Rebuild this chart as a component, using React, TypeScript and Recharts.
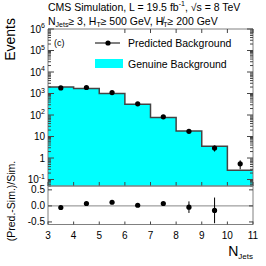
import React from 'react';
import {
  ComposedChart,
  Area,
  Scatter,
  ErrorBar,
  XAxis,
  YAxis,
  ReferenceLine,
  Legend
} from 'recharts';

// bin edges of the N_jets histogram and the simulated ("genuine") yields per bin
const BIN_EDGES = [3, 4, 5, 6, 7, 8, 9, 10, 11];
const GENUINE = [2030, 1710, 1000, 318, 77, 18, 3.5, 0.27];

// predicted background at bin centres
const PRED_X = [3.5, 4.5, 5.5, 6.5, 7.5, 8.5, 9.5, 10.5];
const PRED = [1820, 1900, 1100, 330, 82, 17.5, 2.9, 0.54];
const PRED_ERR = [20, 20, 15, 8, 4, 3, 0.9, 0.24];

// (pred - sim) / sim
const RATIO_X = [3.5, 4.5, 5.5, 6.5, 7.5, 8.5, 9.5];
const RATIO = [-0.05, 0.074, 0.114, 0.02, 0.074, -0.04, -0.14];
const RATIO_ERR = [0.02, 0.02, 0.02, 0.03, 0.04, 0.18, 0.4];

const X_TICKS = [3, 4, 5, 6, 7, 8, 9, 10, 11];
const LOG_MAJOR = [0.1, 1, 10, 100, 1000, 1e4, 1e5, 1e6];
const LOG_LABELS: [string, string][] = [
  ['10', '-1'], ['1', ''], ['10', ''], ['10', '2'], ['10', '3'], ['10', '4'], ['10', '5'], ['10', '6']
];
const RATIO_TICKS = [-0.5, 0, 0.5];

const LOG_DOMAIN: [number, number] = [0.05, 1e6];
const RATIO_DOMAIN: [number, number] = [-0.58, 0.62];

const FONT = '"Liberation Sans", Arial, sans-serif';
const FRAME = '#808080';
const TICK = '#444';

const histData = BIN_EDGES.map((x, i) => ({ x, v: GENUINE[Math.min(i, GENUINE.length - 1)] }));
const predData = PRED_X.map((x, i) => ({ x, y: PRED[i], err: PRED_ERR[i] }));
const ratioData = RATIO_X.map((x, i) => ({ x, y: RATIO[i], err: RATIO_ERR[i] }));

// majors plus 2..9 minors inside the domain
const logTicks: number[] = [];
[0.01, ...LOG_MAJOR].forEach((d) => {
  for (let m = 1; m < 10; m++) {
    const v = +(d * m).toPrecision(3);
    if (v >= LOG_DOMAIN[0] && v <= LOG_DOMAIN[1]) logTicks.push(v);
  }
});

const majorIndex = (v: number) => LOG_MAJOR.findIndex((m) => Math.abs(m - v) / m < 1e-6);

const LogTickLeft = ({ x, y, payload }: any) => {
  const idx = majorIndex(payload.value);
  const major = idx >= 0;
  return (
    <g>
      <line x1={x} x2={x + (major ? 6 : 3)} y1={y} y2={y} stroke={TICK} />
      {major && (
        <text x={x - 3} y={y} textAnchor="end" dominantBaseline="central" fontSize={10} fill="#000" fontFamily={FONT}>
          {LOG_LABELS[idx][0]}
          {LOG_LABELS[idx][1] && <tspan dy={-4} fontSize={7}>{LOG_LABELS[idx][1]}</tspan>}
        </text>
      )}
    </g>
  );
};

const LogTickRight = ({ x, y, payload }: any) => {
  const major = majorIndex(payload.value) >= 0;
  return <line x1={x} x2={x - (major ? 6 : 3)} y1={y} y2={y} stroke={TICK} />;
};

const XTickUp = ({ x, y }: any) => <line x1={x} x2={x} y1={y} y2={y - 4} stroke={TICK} />;
const XTickDown = ({ x, y }: any) => <line x1={x} x2={x} y1={y} y2={y + 4} stroke={TICK} />;
const NoTick = () => <g />;

const XTickLabelled = ({ x, y, payload }: any) => (
  <g>
    <line x1={x} x2={x} y1={y} y2={y - 3} stroke={TICK} />
    <text x={x} y={y + 11} textAnchor="middle" dominantBaseline="central" fontSize={10} fill="#000" fontFamily={FONT}>
      {payload.value}
    </text>
  </g>
);

const RatioTickLeft = ({ x, y, payload }: any) => (
  <g>
    <line x1={x} x2={x + 4} y1={y} y2={y} stroke={TICK} />
    <text x={x - 3} y={y} textAnchor="end" dominantBaseline="central" fontSize={10} fill="#000" fontFamily={FONT}>
      {payload.value.toFixed(1)}
    </text>
  </g>
);
const RatioTickRight = ({ x, y }: any) => <line x1={x} x2={x - 4} y1={y} y2={y} stroke={TICK} />;

const Dot = (props: any) => <circle cx={props.cx} cy={props.cy} r={2.6} fill="#000" />;

const renderLegend = () => (
  <svg width={160} height={36} style={{ overflow: 'visible' }}>
    <line x1={0} x2={25} y1={7} y2={7} stroke="#000" />
    <circle cx={13} cy={7} r={2.6} fill="#000" />
    <text x={33} y={7} dominantBaseline="central" fontSize={10.5} fontFamily={FONT}>Predicted Background</text>
    <rect x={0} y={23} width={28} height={9} fill="#00ffff" />
    <text x={33} y={27.5} dominantBaseline="central" fontSize={10.5} fontFamily={FONT}>Genuine Background</text>
  </svg>
);

export default function App() {
  return (
    <div style={{ position: 'relative', width: 266, height: 266, background: '#fff', fontFamily: FONT }}>
      <style>{'body{margin:0}'}</style>

      <div style={{ position: 'absolute', left: 0, top: 0 }}>
        <ComposedChart width={266} height={187} data={histData} margin={{ top: 28, right: 12, bottom: 0, left: 47 }}>
          <Area
            type="stepAfter"
            dataKey="v"
            xAxisId="b"
            yAxisId="l"
            baseValue={LOG_DOMAIN[0]}
            fill="#00ffff"
            fillOpacity={1}
            stroke="#444"
            strokeWidth={1.5}
            isAnimationActive={false}
          />
          <Scatter data={predData} dataKey="y" xAxisId="b" yAxisId="l" shape={<Dot />} isAnimationActive={false}>
            <ErrorBar dataKey="err" direction="y" width={0} stroke="#000" strokeWidth={1} />
          </Scatter>
          <XAxis xAxisId="b" dataKey="x" type="number" domain={[3, 11]} ticks={X_TICKS} interval={0} height={1}
            allowDataOverflow tickSize={0} tickMargin={0} tickLine={false} tick={<XTickUp />} stroke={FRAME} />
          <XAxis xAxisId="t" orientation="top" type="number" domain={[3, 11]} ticks={X_TICKS} interval={0} height={1}
            allowDataOverflow tickSize={0} tickMargin={0} tickLine={false} tick={<XTickDown />} stroke={FRAME} />
          <YAxis yAxisId="l" scale="log" type="number" domain={LOG_DOMAIN} ticks={logTicks} interval={0} width={1}
            allowDataOverflow tickSize={0} tickMargin={0} tickLine={false} tick={<LogTickLeft />} stroke={FRAME} />
          <YAxis yAxisId="r" orientation="right" scale="log" type="number" domain={LOG_DOMAIN} ticks={logTicks} interval={0} width={1}
            allowDataOverflow tickSize={0} tickMargin={0} tickLine={false} tick={<LogTickRight />} stroke={FRAME} />
          <Legend content={renderLegend} layout="horizontal" verticalAlign="middle"
            wrapperStyle={{ left: 95, top: 36, width: 160 }} />
        </ComposedChart>
      </div>

      <div style={{ position: 'absolute', left: 0, top: 185 }}>
        <ComposedChart width={266} height={80} data={ratioData} margin={{ top: 0, right: 12, bottom: 39.5, left: 47 }}>
          <ReferenceLine y={0} xAxisId="b" yAxisId="l" stroke="#888" strokeWidth={1} />
          <Scatter data={ratioData} dataKey="y" xAxisId="b" yAxisId="l" shape={<Dot />} isAnimationActive={false}>
            <ErrorBar dataKey="err" direction="y" width={0} stroke="#000" strokeWidth={1} />
          </Scatter>
          <XAxis xAxisId="b" dataKey="x" type="number" domain={[3, 11]} ticks={X_TICKS} interval={0} height={1}
            allowDataOverflow tickSize={0} tickMargin={0} tickLine={false} tick={<XTickLabelled />} stroke={FRAME} />
          <XAxis xAxisId="t" orientation="top" type="number" domain={[3, 11]} ticks={X_TICKS} interval={0} height={1}
            allowDataOverflow tickSize={0} tickMargin={0} tickLine={false} tick={<NoTick />} stroke={FRAME} />
          <YAxis yAxisId="l" type="number" domain={RATIO_DOMAIN} ticks={RATIO_TICKS} interval={0} width={1}
            allowDataOverflow tickSize={0} tickMargin={0} tickLine={false} tick={<RatioTickLeft />} stroke={FRAME} />
          <YAxis yAxisId="r" orientation="right" type="number" domain={RATIO_DOMAIN} ticks={RATIO_TICKS} interval={0} width={1}
            allowDataOverflow tickSize={0} tickMargin={0} tickLine={false} tick={<RatioTickRight />} stroke={FRAME} />
        </ComposedChart>
      </div>

      <svg width={266} height={266} style={{ position: 'absolute', left: 0, top: 0, pointerEvents: 'none' }} fontFamily={FONT}>
        <text x={48} y={7} dominantBaseline="central" fontSize={10.5}>
          CMS Simulation, L = 19.5 fb<tspan dy={-4} fontSize={7}>-1</tspan>
          <tspan dy={4}>, √s = 8 TeV</tspan>
        </text>
        <text x={48} y={21} dominantBaseline="central" fontSize={10.5}>
          N<tspan dy={3} fontSize={7}>Jets</tspan>
          <tspan dy={-3}>≥ 3, H</tspan>
          <tspan dy={3} fontSize={7}>T</tspan>
          <tspan dy={-3}>≥ 500 GeV, H̸</tspan>
          <tspan dy={3} fontSize={7}>T</tspan>
          <tspan dy={-3}>≥ 200 GeV</tspan>
        </text>
        <text x={54} y={43} dominantBaseline="central" fontSize={9}>(c)</text>
        <text transform="translate(15,18) rotate(-90)" textAnchor="end" fontSize={14}>Events</text>
        <text transform="translate(15,201) rotate(-90)" textAnchor="middle" fontSize={10.5}>(Pred.-Sim.)/Sim.</text>
        <text x={253} y={256} textAnchor="end" fontSize={14}>
          N<tspan dy={3} fontSize={8}>Jets</tspan>
        </text>
      </svg>
    </div>
  );
}
